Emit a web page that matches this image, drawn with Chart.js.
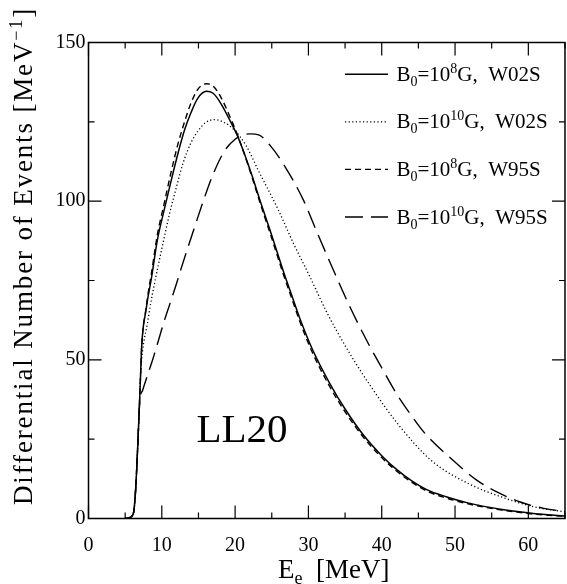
<!DOCTYPE html>
<html><head><meta charset="utf-8">
<script src="https://cdn.jsdelivr.net/npm/chart.js@4.4.1/dist/chart.umd.min.js"></script>
<style>html,body{margin:0;padding:0;background:#fff;}#wrap{width:567px;height:584px;}</style>
</head><body><div id="wrap"><canvas id="c" width="567" height="584"></canvas></div>
<script>
// ---- data ----
const fieldExponent = ['8', '10', '8', '10'];
const modelName = ['W02S', 'W02S', 'W95S', 'W95S'];

const eW02S_8 = [5.0,5.5,6.0,6.2,6.4,6.5,6.7,6.9,7.1,7.25,7.45,7.8,8.1,8.6,9.4,10.3,11.3,12.2,13.1,14.0,14.9,16.1,17.0,18.0,19.5,20.5,22.2,23.5,24.9,26.5,27.7,29.0,30.6,32.9,35.0,37.5,40.0,42.1,44.0,46.2,48.9,51.6,56.2,60.7,65.0];
const nW02S_8 = [0,0.2,1.0,2.5,8,12,22,33,45,54,60,65,69.5,76,87.8,97,106.7,115,122.4,128,132.4,134.6,134,131,124.5,119.6,108.8,99.5,89.9,78.5,70.5,62,53,42.6,34.5,26.3,19.8,15.3,12,9.0,6.8,5.0,2.9,1.6,0.8];

const eW02S_10 = [5.0,5.5,6.0,6.2,6.4,6.5,6.7,6.9,7.1,7.25,7.5,8.0,8.5,9.0,10.0,11.0,12.0,12.9,14.0,14.9,16.0,17.2,18.5,19.9,21.5,23.1,25.9,28.0,30.2,32.5,35.0,38.4,42.3,46.8,52.0,56.2,60.7,65.0];
const nW02S_10 = [0,0.2,1.0,2.5,8,12,22,33,45,50,55,61,68,74,85,95.5,104.5,112,118.5,122,124.8,125.7,124.8,122.4,117.5,110,97.2,86.5,76.2,65,54.5,42,29.5,18.2,10.8,6.9,3.7,2.1];

const eW95S_8 = [5.0,5.5,6.0,6.2,6.4,6.5,6.7,6.9,7.1,7.25,7.45,7.8,8.1,8.6,9.4,10.3,11.3,12.2,13.1,14.0,14.9,16.1,17.0,18.0,19.5,20.5,22.2,23.5,24.9,26.5,27.7,29.0,30.6,32.9,35.0,37.5,40.0,42.1,44.0,46.2,48.9,51.6,56.2,60.7,65.0];
const nW95S_8 = [0,0.2,1.0,2.5,8,12,22,33,45,54,60,65.5,70.5,77.5,89.5,99,109.5,118,125,131,135.2,137,136.3,133,125.5,119.8,108.3,98.8,89,77.5,69.5,61,52,41.6,33.6,25.6,19.2,14.8,11.6,8.6,6.4,4.7,2.7,1.4,0.7];

const eW95S_10 = [5.0,5.5,6.0,6.2,6.4,6.5,6.7,6.9,7.0,7.4,8.1,8.75,9.4,10.3,11.3,12.0,12.6,13.5,14.5,15.8,17.0,18.6,20.0,21.0,22.0,23.3,24.8,26.8,29.3,31.3,33.4,35.8,38.2,40.0,42.1,43.2,45.9,49.6,53.0,55.7,58.9,62.1,65.0];
const nW95S_10 = [0,0.2,1.0,2.5,8,12,22,33,37,40.5,45.5,50,55,62,69,74,78.5,85,92,101,108.5,116,119.5,120.8,121.2,120.8,117.5,110.9,100.4,89.5,78.3,66,55,47.5,39,35.2,26.8,18.6,12,8.4,5.2,3.2,2.2];

const xTickLabels = [0,10,20,30,40,50,60];
const yTickLabels = [0,50,100,150];
const panelLabel = 'LL20';

// ---- build ----
const toXY = (xs, ys) => xs.map((x, i) => ({x, y: ys[i]}));
const seriesE = [eW02S_8, eW02S_10, eW95S_8, eW95S_10];
const seriesN = [nW02S_8, nW02S_10, nW95S_8, nW95S_10];
const dashes = [[], [1.2, 2.4], [6, 4], [18, 8]];
const widths = [1.5, 1.3, 1.4, 1.4];
const supMap = {'0':'⁰','1':'¹','8':'⁸'};
const labels = fieldExponent.map((p, i) => 'B₀=10' + p.split('').map(c => supMap[c]).join('') + 'G,  ' + modelName[i]);

const datasets = seriesE.map((e, i) => ({
  label: labels[i],
  data: toXY(e, seriesN[i]),
  borderColor: '#000',
  borderWidth: widths[i],
  borderDash: dashes[i],
  pointRadius: 0,
  fill: false,
  cubicInterpolationMode: 'monotone'
}));

const SERIF = '"Liberation Serif", "DejaVu Serif", serif';

function drawParts(ctx, parts, x, y) {
  let cx = x;
  for (const p of parts) {
    ctx.font = p.size + 'px ' + SERIF;
    ctx.fillText(p.t, cx, y + (p.dy || 0));
    cx += ctx.measureText(p.t).width;
  }
  return cx;
}

const decorPlugin = {
  id: 'decor',
  afterDatasetsDraw(chart) {
    const {ctx, chartArea: a, scales: {x, y}} = chart;
    ctx.save();
    ctx.strokeStyle = '#000';
    ctx.fillStyle = '#000';
    ctx.setLineDash([]);
    ctx.lineWidth = 1.5;
    ctx.strokeRect(a.left, a.top, a.right - a.left, a.bottom - a.top);
    ctx.lineWidth = 1.2;
    ctx.beginPath();
    x.ticks.forEach(t => {
      const px = x.getPixelForValue(t.value);
      const len = (t.value % 10 === 0) ? 13 : 6;
      ctx.moveTo(px, a.bottom); ctx.lineTo(px, a.bottom - len);
      ctx.moveTo(px, a.top); ctx.lineTo(px, a.top + len);
    });
    y.ticks.forEach(t => {
      const py = y.getPixelForValue(t.value);
      const len = (t.value % 50 === 0) ? 13 : 6;
      ctx.moveTo(a.left, py); ctx.lineTo(a.left + len, py);
      ctx.moveTo(a.right, py); ctx.lineTo(a.right - len, py);
    });
    ctx.stroke();

    // legend
    ctx.textBaseline = 'alphabetic';
    ctx.textAlign = 'left';
    chart.data.datasets.forEach((ds, i) => {
      const base = 80.7 + i * 47.6;
      const ly = base - 6.5;
      ctx.save();
      ctx.lineWidth = ds.borderWidth;
      ctx.setLineDash(ds.borderDash);
      ctx.beginPath();
      ctx.moveTo(345, ly); ctx.lineTo(388, ly);
      ctx.stroke();
      ctx.restore();
      const p = fieldExponent[i];
      drawParts(ctx, [
        {t: 'B', size: 21},
        {t: '0', size: 14, dy: 5},
        {t: '=10', size: 21},
        {t: p, size: 14, dy: -8},
        {t: 'G,  ' + modelName[i], size: 21}
      ], 396.5, base);
    });

    // panel label
    ctx.font = '41px ' + SERIF;
    ctx.fillText(panelLabel, 196.5, 441.5);

    // x title
    drawParts(ctx, [
      {t: 'E', size: 27},
      {t: 'e', size: 18, dy: 6},
      {t: '  [MeV]', size: 27}
    ], 278, 578);

    // y title
    ctx.save();
    ctx.translate(32, 505);
    ctx.rotate(-Math.PI / 2);
    ctx.font = '27px ' + SERIF;
    const main = 'Differential Number of Events [MeV';
    const w0 = ctx.measureText(main).width;
    ctx.font = '18px ' + SERIF;
    const w1 = ctx.measureText('−1').width;
    ctx.font = '27px ' + SERIF;
    const w2 = ctx.measureText(']').width;
    const target = 498;
    const nChars = main.length + 3;
    const sp = Math.max(0, (target - w0 - w1 - w2) / nChars);
    ctx.letterSpacing = sp.toFixed(2) + 'px';
    drawParts(ctx, [
      {t: main, size: 27},
      {t: '−1', size: 18, dy: -10},
      {t: ']', size: 27}
    ], 0, 0);
    ctx.restore();
    ctx.restore();
  }
};

new Chart(document.getElementById('c'), {
  type: 'line',
  data: {datasets},
  options: {
    responsive: false,
    animation: false,
    devicePixelRatio: 1,
    layout: {padding: {top: 42.5, right: 2, left: 0, bottom: 0}},
    plugins: {legend: {display: false}, tooltip: {enabled: false}},
    elements: {line: {borderCapStyle: 'butt'}},
    scales: {
      x: {
        type: 'linear', min: 0, max: 65,
        afterFit(s) { s.height = 65.5; s.paddingRight = 0; s.paddingLeft = 0; },
        grid: {display: false, drawTicks: false},
        border: {display: false},
        ticks: {
          stepSize: 5, autoSkip: false, maxRotation: 0, padding: 15,
          color: '#000', font: {family: SERIF, size: 20},
          callback: v => xTickLabels.includes(v) ? String(v) : ''
        }
      },
      y: {
        type: 'linear', min: 0, max: 150,
        afterFit(s) { s.width = 88.5; s.paddingTop = 0; s.paddingBottom = 0; },
        grid: {display: false, drawTicks: false},
        border: {display: false},
        ticks: {
          stepSize: 25, autoSkip: false, padding: 3,
          color: '#000', font: {family: SERIF, size: 20},
          callback: v => yTickLabels.includes(v) ? String(v) : ''
        }
      }
    }
  },
  plugins: [decorPlugin]
});
</script></body></html>
